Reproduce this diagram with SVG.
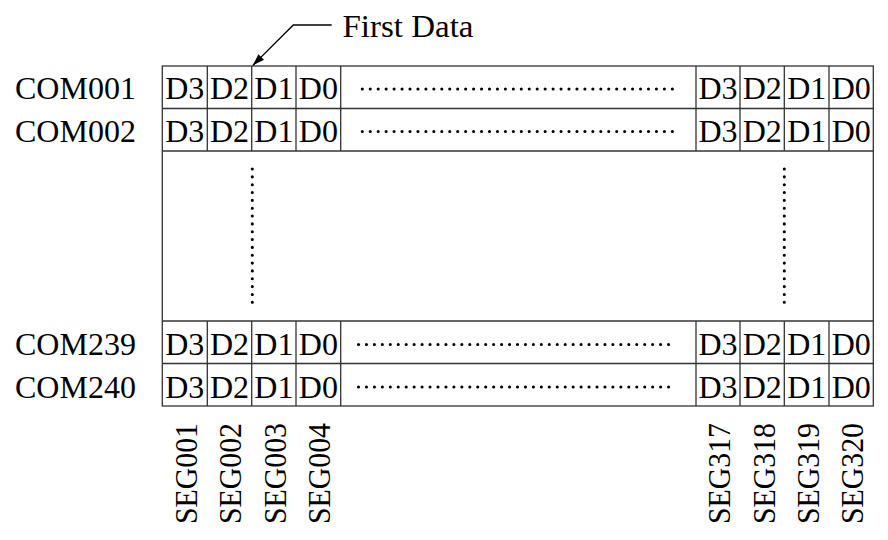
<svg xmlns="http://www.w3.org/2000/svg" width="888" height="540" viewBox="0 0 888 540">
<defs>
<style>
.t{font-family:"Liberation Serif","Times New Roman",serif;font-size:32px;fill:#000}
.c{text-anchor:middle}
.g{fill:none;stroke:#333;stroke-width:1.3}
.dh{fill:none;stroke:#000;stroke-width:3.1;stroke-linecap:round;stroke-dasharray:0 7.95}
.dv{fill:none;stroke:#000;stroke-width:3.1;stroke-linecap:round;stroke-dasharray:0 7.84}
</style>
<marker id="ah" viewBox="0 0 12 8" refX="12" refY="4" markerWidth="12" markerHeight="8" markerUnits="userSpaceOnUse" orient="auto">
<path d="M0,0 L12,4 L0,8 Z" fill="#000"/>
</marker>
</defs>
<rect width="888" height="540" fill="#fff"/>

<g id="grid">
<rect class="g" x="162.3" y="66" width="711" height="340"/>
<line class="g" x1="162.3" y1="108.5" x2="873.3" y2="108.5"/>
<line class="g" x1="162.3" y1="151" x2="873.3" y2="151"/>
<line class="g" x1="162.3" y1="321" x2="873.3" y2="321"/>
<line class="g" x1="162.3" y1="363.5" x2="873.3" y2="363.5"/>
<path class="g" d="M207.3,66V151M251.7,66V151M296,66V151M340.7,66V151M696,66V151M740,66V151M784.3,66V151M829,66V151"/>
<path class="g" d="M207.3,321V406M251.7,321V406M296,321V406M340.7,321V406M696,321V406M740,321V406M784.3,321V406M829,321V406"/>
</g>

<g id="row-com001">
<text class="t" x="15" y="99">COM001</text>
<text class="t c" x="184.8" y="99">D3</text><text class="t c" x="229.5" y="99">D2</text><text class="t c" x="273.9" y="99">D1</text><text class="t c" x="318.4" y="99">D0</text>
<line class="dh" x1="362.3" y1="89" x2="680" y2="89"/>
<text class="t c" x="718" y="99">D3</text><text class="t c" x="762.2" y="99">D2</text><text class="t c" x="806.7" y="99">D1</text><text class="t c" x="851.2" y="99">D0</text>
</g>

<g id="row-com002">
<text class="t" x="15" y="141.5">COM002</text>
<text class="t c" x="184.8" y="141.5">D3</text><text class="t c" x="229.5" y="141.5">D2</text><text class="t c" x="273.9" y="141.5">D1</text><text class="t c" x="318.4" y="141.5">D0</text>
<line class="dh" x1="362.3" y1="131.5" x2="680" y2="131.5"/>
<text class="t c" x="718" y="141.5">D3</text><text class="t c" x="762.2" y="141.5">D2</text><text class="t c" x="806.7" y="141.5">D1</text><text class="t c" x="851.2" y="141.5">D0</text>
</g>

<g id="gap">
<line class="dv" x1="252.3" y1="169" x2="252.3" y2="303"/>
<line class="dv" x1="784.3" y1="169" x2="784.3" y2="303"/>
</g>

<g id="row-com239">
<text class="t" x="15" y="355">COM239</text>
<text class="t c" x="184.8" y="355">D3</text><text class="t c" x="229.5" y="355">D2</text><text class="t c" x="273.9" y="355">D1</text><text class="t c" x="318.4" y="355">D0</text>
<line class="dh" x1="358.5" y1="344.5" x2="676" y2="344.5"/>
<text class="t c" x="718" y="355">D3</text><text class="t c" x="762.2" y="355">D2</text><text class="t c" x="806.7" y="355">D1</text><text class="t c" x="851.2" y="355">D0</text>
</g>

<g id="row-com240">
<text class="t" x="15" y="397.5">COM240</text>
<text class="t c" x="184.8" y="397.5">D3</text><text class="t c" x="229.5" y="397.5">D2</text><text class="t c" x="273.9" y="397.5">D1</text><text class="t c" x="318.4" y="397.5">D0</text>
<line class="dh" x1="358.5" y1="387" x2="676" y2="387"/>
<text class="t c" x="718" y="397.5">D3</text><text class="t c" x="762.2" y="397.5">D2</text><text class="t c" x="806.7" y="397.5">D1</text><text class="t c" x="851.2" y="397.5">D0</text>
</g>

<g id="seg-labels">
<text class="t" transform="translate(196.5,524) rotate(-90)" textLength="101" lengthAdjust="spacingAndGlyphs">SEG001</text>
<text class="t" transform="translate(241,524) rotate(-90)" textLength="101" lengthAdjust="spacingAndGlyphs">SEG002</text>
<text class="t" transform="translate(285.5,524) rotate(-90)" textLength="101" lengthAdjust="spacingAndGlyphs">SEG003</text>
<text class="t" transform="translate(330,524) rotate(-90)" textLength="101" lengthAdjust="spacingAndGlyphs">SEG004</text>
<text class="t" transform="translate(730,524) rotate(-90)" textLength="101" lengthAdjust="spacingAndGlyphs">SEG317</text>
<text class="t" transform="translate(774.5,524) rotate(-90)" textLength="101" lengthAdjust="spacingAndGlyphs">SEG318</text>
<text class="t" transform="translate(818.5,524) rotate(-90)" textLength="101" lengthAdjust="spacingAndGlyphs">SEG319</text>
<text class="t" transform="translate(863,524) rotate(-90)" textLength="101" lengthAdjust="spacingAndGlyphs">SEG320</text>
</g>

<g id="first-data">
<text class="t" x="342.5" y="36.5" textLength="131" lengthAdjust="spacingAndGlyphs">First Data</text>
</g>

<g id="connectors">
<path d="M331.7,25 H293.3 L252.7,65.5" fill="none" stroke="#000" stroke-width="1.3" marker-end="url(#ah)"/>
</g>
</svg>
